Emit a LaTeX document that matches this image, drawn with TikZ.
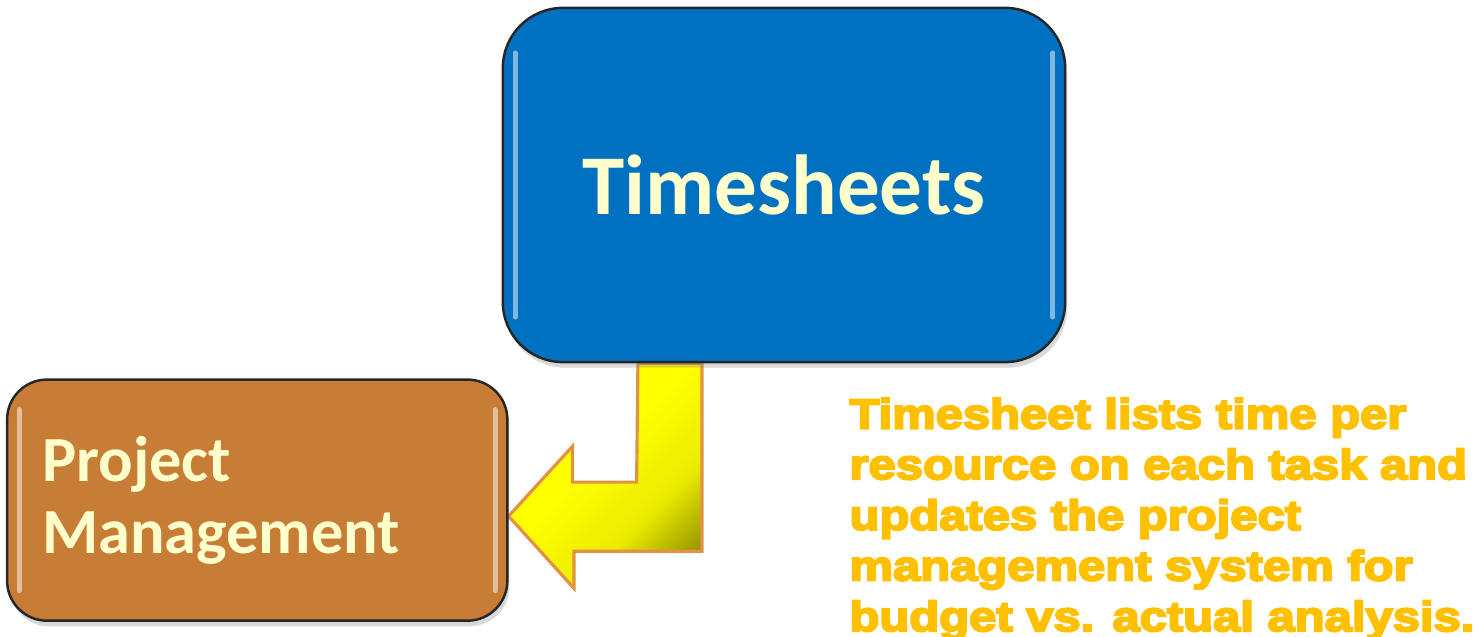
\documentclass[tikz,border=0pt]{standalone}
\usepackage{fontspec}
\usetikzlibrary{positioning,shadows,backgrounds}
\newfontfamily\boxfont{Carlito}
\font\notefnt="Liberation Sans/B:embolden=5;extend=1.165" at 11.95pt
\definecolor{tsblue}{HTML}{0070C0}
\definecolor{pmbrown}{HTML}{C87D37}
\definecolor{cream}{HTML}{FFFFCC}
\definecolor{notegold}{HTML}{FFC000}
\definecolor{arrowedge}{HTML}{E39245}
\pgfdeclareverticalshading{arrowshade}{100bp}{color(0bp)=(olive!75!black); color(22bp)=(olive!80!yellow); color(36bp)=(yellow!85!olive); color(55bp)=(yellow); color(100bp)=(yellow)}
\tikzset{
gloss/.style={path picture={
  \draw[white, opacity=0.5, line width=1.4pt, line cap=round]
    ([xshift=3.5pt,yshift=-#1]path picture bounding box.north west) -- ([xshift=3.5pt,yshift=#1]path picture bounding box.south west)
    ([xshift=-3.5pt,yshift=-#1]path picture bounding box.north east) -- ([xshift=-3.5pt,yshift=#1]path picture bounding box.south east);
}},
box/.style={rectangle, draw=black!85, line width=0.7pt, text=cream,
  drop shadow={shadow xshift=0.6pt, shadow yshift=-1.6pt, opacity=0.3}},
tsbox/.style={box, gloss=0.45cm, fill=tsblue, rounded corners=0.6cm,
  minimum width=5.62cm, minimum height=3.54cm,
  font={\boxfont\bfseries\fontsize{24.2}{29}\selectfont}},
pmbox/.style={box, gloss=0.3cm, fill=pmbrown, rounded corners=0.4cm,
  minimum width=5cm, minimum height=2.41cm, text width=4.3cm, inner xsep=0.35cm, align=left,
  font={\boxfont\bfseries\fontsize{18.3}{20.5}\selectfont}},
bentarrow/.style={draw=arrowedge, line width=0.9pt, shading=arrowshade, shading angle=45},
note/.style={text=notegold, align=left, inner sep=0pt,
  font={\notefnt\baselineskip=14.4pt}},
}

\begin{document}
\begin{tikzpicture}[x=0.01cm, y=-0.01cm]
    \useasboundingbox (0,0) rectangle (1484,637);
    \node[tsbox] (ts) at (784,185) {Timesheets};
    \node[pmbox, below left=0.15cm and -0.07cm of ts.south west] (pm) {Project\\Management};
    \node[note, right=3.4cm of pm.north east, anchor=north west, yshift=-0.19cm] (nt)
      {Timesheet lists time per\\resource on each task and\\updates the project\\management system for\\budget vs. actual analysis.};

    \coordinate (tip) at ([yshift=-0.16cm]pm.east);
    \begin{scope}[on background layer]
    \draw[bentarrow] ([xshift=-1.46cm]ts.south) -- ++(64,0) -- ++(0,188) -- ++(-128,0)
      -- ++(0,37) -- (tip) -- ++(64,-70) -- ++(0,36) -- ++(64,0) -- cycle;
    \end{scope}
\end{tikzpicture}
\end{document}
